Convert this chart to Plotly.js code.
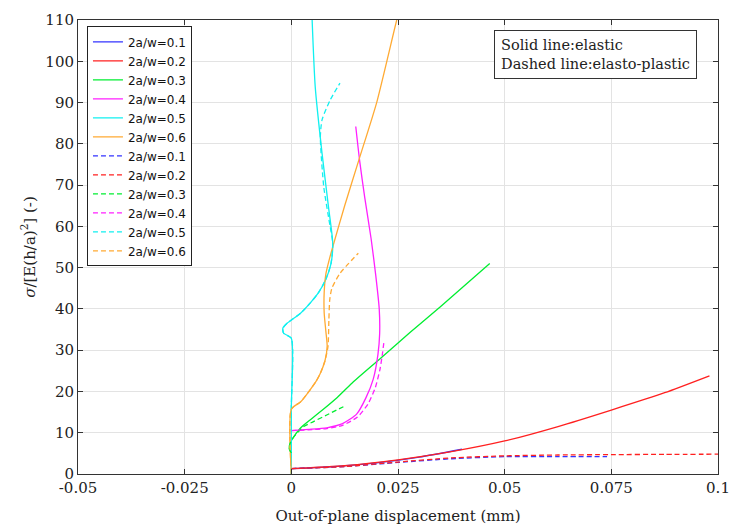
<!DOCTYPE html>
<html>
<head>
<meta charset="utf-8">
<script src="https://cdn.plot.ly/plotly-3.0.1.min.js"></script>
<style>html,body{margin:0;padding:0;background:#fff}#chart{width:731px;height:532px}</style>
</head>
<body>
<div id="chart"></div>
<script>
// Series names
const seriesNames = ["2a/w=0.1","2a/w=0.2","2a/w=0.3","2a/w=0.4","2a/w=0.5","2a/w=0.6"];
const seriesColors = ["#3333ff","#ff2020","#00ee30","#ff20ff","#10f0f0","#ffaa33"];

// Elastic (solid) series
const elX01 = [0,0.01,0.02,0.03,0.04];
const elY01 = [1.3,1.8,2.7,4.1,6.0];
const elX02 = [0,0.0125,0.025,0.0375,0.05,0.0625,0.075,0.0875,0.098];
const elY02 = [1.3,2.0,3.4,5.4,8.0,11.5,15.5,19.7,23.8];
const elX03 = [0,-0.0005,-0.0003,0.0005,0.0021,0.0044,0.0075,0.0107,0.0142,0.021,0.0278,0.035,0.0465];
const elY03 = [5.0,6.2,7.4,8.9,11.1,13.1,15.7,18.5,22.0,28.1,34.3,40.6,51.0];
const elX04 = [0,0.004,0.0083,0.012,0.0153,0.0175,0.0192,0.0203,0.0207,0.0206,0.0198,0.0187,0.0172,0.016,0.0151];
const elY04 = [10.5,10.8,11.2,12.2,14.5,18.5,23,29,34,40,48,57,67,76,84.2];
const elX05 = [0,0,0,-0.0018,-0.002,-0.001,0.0021,0.0044,0.0064,0.0081,0.0093,0.0097,0.0087,0.0072,0.0056,0.0048];
const elY05 = [0,16,32.9,34.1,35.3,36.5,38.9,41.4,44,47.2,51,56,64.8,77.7,93.8,112];
const elX06 = [0,0,0.0022,0.0044,0.006,0.0068,0.0079,0.0084,0.0081,0.0077,0.0077,0.0081,0.0089,0.0097,0.0125,0.0158,0.02,0.0247,0.0255];
const elY06 = [0,15.7,17.5,20.4,22.8,24.4,27.5,31,34.5,39,44,48.5,52,55,65,76,90,110,113];

// Elasto-plastic (dashed) series
const plX01 = [0,0.0125,0.025,0.0375,0.05,0.0625,0.074];
const plY01 = [1.3,1.8,2.8,3.7,4.2,4.2,4.2];
const plX02 = [0,0.0125,0.025,0.0375,0.05,0.0625,0.075,0.0875,0.1];
const plY02 = [1.3,1.8,2.9,3.9,4.4,4.6,4.7,4.75,4.8];
const plX03 = [0,-0.0005,-0.0003,0.0005,0.0029,0.0052,0.0083,0.0122];
const plY03 = [5.0,6.2,7.4,8.9,11.5,12.7,14.3,16.3];
const plX04 = [0,0.004,0.0083,0.012,0.0155,0.018,0.0197,0.0208,0.0214,0.0217];
const plY04 = [10.5,10.7,11.0,11.8,13.8,17,21,25.5,29.5,32];
const plX05 = [0,0,0,-0.0018,-0.002,-0.001,0.0021,0.0044,0.0064,0.0081,0.0093,0.0097,0.0091,0.0076,0.0068,0.0072,0.0091,0.0114];
const plY05 = [0,16,32.9,34.1,35.3,36.5,38.9,41.4,44,47.2,51,56,59.9,69.6,81.7,85.8,90.6,94.7];
const plX06 = [0,0,0.0022,0.0044,0.006,0.0068,0.0079,0.0086,0.0088,0.009,0.0095,0.0114,0.0157];
const plY06 = [0,15.7,17.5,20.4,22.8,24.4,27.5,31,37.3,42.2,45,48.6,53.5];

const xTickVals = [-0.05,-0.025,0,0.025,0.05,0.075,0.1];
const xTickText = ["-0.05","-0.025","0","0.025","0.05","0.075","0.1"];
const yTickVals = [0,10,20,30,40,50,60,70,80,90,100,110];

const elastic = [[elX01,elY01],[elX02,elY02],[elX03,elY03],[elX04,elY04],[elX05,elY05],[elX06,elY06]];
const plastic = [[plX01,plY01],[plX02,plY02],[plX03,plY03],[plX04,plY04],[plX05,plY05],[plX06,plY06]];

const traces = [];
elastic.forEach((d,i)=>traces.push({x:d[0],y:d[1],type:'scatter',mode:'lines',name:seriesNames[i],
  line:{color:seriesColors[i],width:1.3,shape:'spline',smoothing:0.6}}));
plastic.forEach((d,i)=>traces.push({x:d[0],y:d[1],type:'scatter',mode:'lines',name:seriesNames[i],
  line:{color:seriesColors[i],width:1.3,dash:'5px,3px',shape:'spline',smoothing:0.6}}));

const serif = "DejaVu Serif, serif";
const layout = {
  width:731,height:532,
  margin:{l:78,r:13,t:20,b:58},
  paper_bgcolor:'#fff',plot_bgcolor:'#fff',
  showlegend:true,
  legend:{x:0.014,y:0.986,xanchor:'left',yanchor:'top',bgcolor:'#fff',bordercolor:'#222',borderwidth:1,
    font:{family:"DejaVu Sans, sans-serif",size:12,color:'#111'},tracegroupgap:0},
  xaxis:{range:[-0.05,0.1],tickvals:xTickVals,ticktext:xTickText,ticks:'inside',ticklen:5,tickcolor:'#333',
    showline:true,linecolor:'#333',linewidth:1,mirror:'ticks',showgrid:true,gridcolor:'#e3e3e3',zeroline:false,
    tickfont:{family:serif,size:15,color:'#222'},
    title:{text:'Out-of-plane displacement (mm)',font:{family:serif,size:15,color:'#222'},standoff:14}},
  yaxis:{range:[0,110],tickvals:yTickVals,ticks:'inside',ticklen:5,tickcolor:'#333',
    showline:true,linecolor:'#333',linewidth:1,mirror:'ticks',showgrid:true,gridcolor:'#e3e3e3',zeroline:false,
    tickfont:{family:serif,size:15,color:'#222'},
    title:{text:'<i>σ</i>/[E(h/a)<sup>2</sup>] (-)',font:{family:serif,size:15,color:'#222'},standoff:6}},
  annotations:[{xref:'paper',yref:'paper',x:0.967,y:0.978,xanchor:'right',yanchor:'top',align:'left',
    text:'Solid line:elastic<br>Dashed line:elasto-plastic',showarrow:false,
    font:{family:serif,size:14.5,color:'#222'},bgcolor:'#fff',bordercolor:'#333',borderwidth:1,borderpad:6}]
};
Plotly.newPlot('chart',traces,layout,{displayModeBar:false,staticPlot:true});
</script>
</body>
</html>
